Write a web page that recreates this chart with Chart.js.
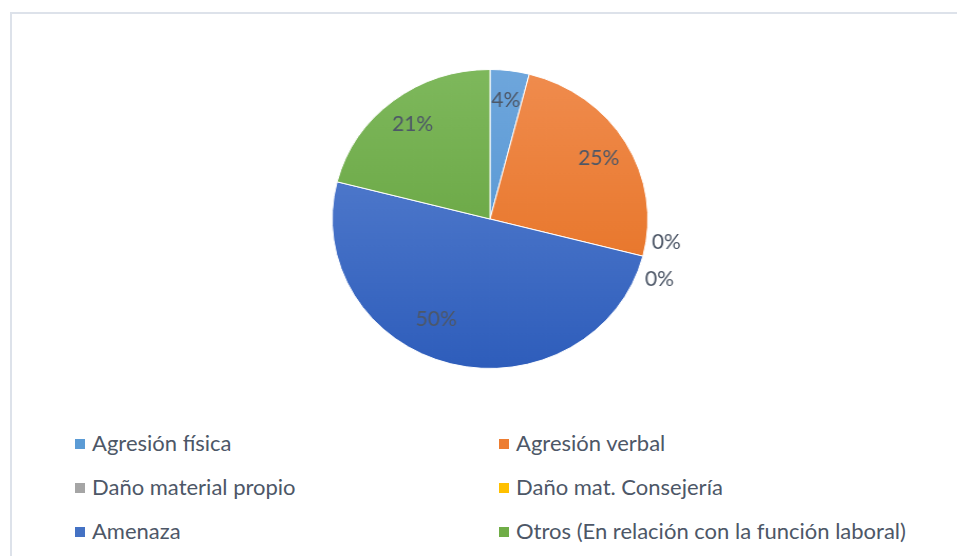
<!DOCTYPE html>
<html>
<head>
<meta charset="utf-8">
<script src="https://cdn.jsdelivr.net/npm/chart.js@4"></script>
<style>
  html, body { margin: 0; padding: 0; background: #fff; }
  body { width: 957px; height: 556px; position: relative; overflow: hidden; font-family: Lato, "Open Sans", sans-serif; }
  #frame { position: absolute; left: 10px; top: 12px; width: 1000px; height: 600px; border-left: 2px solid #dde2ea; border-top: 2px solid #dde2ea; }
  #pieBox { position: absolute; left: 260px; top: 69px; width: 460px; height: 300px; transform: scaleX(1.056); transform-origin: 50% 50%; }
  #legend { position: absolute; left: 0; top: 0; }
  .item { position: absolute; font-size: 22px; color: #4d5767; white-space: nowrap; line-height: 22px; }
  .item span.sw { display: inline-block; width: 10px; height: 10px; margin-right: 7px; vertical-align: 2px; }
</style>
</head>
<body>
<div id="frame"></div>
<div id="pieBox"><canvas id="pieChart"></canvas></div>
<div id="legend"></div>
<script>
var labels = ['Agresión física', 'Agresión verbal', 'Daño material propio', 'Daño mat. Consejería', 'Amenaza', 'Otros (En relación con la función laboral)'];
var values = [4, 25, 0, 0, 50, 21];
var colors = ['#5b9bd5', '#ed7d31', '#a5a5a5', '#ffc000', '#4472c4', '#70ad47'];
var topColors = ['#6ea6dc', '#f08c4e', '#b5b5b5', '#ffca33', '#5e86d3', '#7eb85c'];
var bottomColors = ['#4a8fd0', '#e46c1a', '#969696', '#f0b400', '#2e5dbb', '#5e9d36'];

var SX = 1.056;

function sliceFill(ctx) {
    var chart = ctx.chart;
    var area = chart.chartArea;
    var i = ctx.dataIndex;
    if (!area) return colors[i];
    var g = chart.ctx.createLinearGradient(0, area.top, 0, area.bottom);
    g.addColorStop(0, topColors[i]);
    g.addColorStop(1, bottomColors[i]);
    return g;
}

var pctLabels = {
    id: 'pctLabels',
    afterDatasetsDraw: function(chart) {
        var ctx = chart.ctx;
        var arcs = chart.getDatasetMeta(0).data;
        var total = values.reduce(function(a, b) { return a + b; }, 0);
        var zeroCount = 0;
        ctx.save();
        ctx.font = '21px Lato, "Open Sans", sans-serif';
        ctx.fillStyle = '#4d5767';
        ctx.textBaseline = 'middle';
        arcs.forEach(function(arc, i) {
            var txt = Math.round(values[i] / total * 100) + '%';
            var mid = (arc.startAngle + arc.endAngle) / 2;
            var px, py;
            if (values[i] > 0) {
                var f = values[i] >= 50 ? 0.75 : 0.8;
                if (values[i] >= 50) mid += 0.22;
                px = arc.x + Math.cos(mid) * arc.outerRadius * f;
                py = arc.y + Math.sin(mid) * arc.outerRadius * f;
                ctx.textAlign = 'center';
            } else {
                px = arc.x + Math.cos(mid) * arc.outerRadius + 9 / SX - zeroCount * 7 / SX;
                py = arc.y + Math.sin(mid) * arc.outerRadius - 14 + zeroCount * 37;
                ctx.textAlign = 'left';
                zeroCount++;
            }
            ctx.save();
            ctx.translate(px, py);
            ctx.scale(1 / SX, 1);
            ctx.fillText(txt, 0, 0);
            ctx.restore();
        });
        ctx.restore();
    }
};

var pieChart = new Chart(document.getElementById('pieChart').getContext('2d'), {
    type: 'pie',
    data: {
        labels: labels,
        datasets: [{
            data: values,
            backgroundColor: sliceFill,
            borderColor: '#ffffff',
            borderWidth: 1
        }]
    },
    options: {
        responsive: true,
        maintainAspectRatio: false,
        animation: false,
        layout: { padding: 0 },
        plugins: {
            legend: { display: false },
            tooltip: { enabled: false }
        }
    },
    plugins: [pctLabels]
});

// legend in two columns, built from the same arrays
var legend = document.getElementById('legend');
labels.forEach(function(name, i) {
    var d = document.createElement('div');
    d.className = 'item';
    d.style.left = (i % 2 === 0 ? 75 : 499) + 'px';
    d.style.top = (432 + Math.floor(i / 2) * 44) + 'px';
    d.innerHTML = '<span class="sw" style="background:' + colors[i] + '"></span>' + name;
    legend.appendChild(d);
});
</script>
</body>
</html>
